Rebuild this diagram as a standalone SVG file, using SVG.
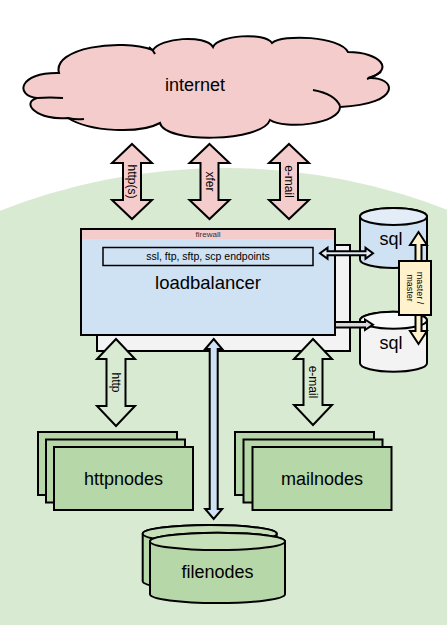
<svg xmlns="http://www.w3.org/2000/svg" width="447" height="625" viewBox="0 0 447 625">
<style>
text{font-family:"Liberation Sans",Arial,sans-serif;fill:#000}
.o{stroke:#000;stroke-width:2;stroke-linejoin:miter}
.pink{fill:#f4cccc}
.blue{fill:#cfe2f3}
.gray{fill:#f3f3f3}
.green{fill:#b6d7a8}
.bg{fill:#d9ead3}
.yel{fill:#fff2cc}
.big{font-size:18px;text-anchor:middle}
.lbl{font-size:12px;text-anchor:middle}
</style>
<rect width="447" height="625" fill="#fff"/>
<circle cx="225" cy="780" r="612" class="bg"/>

<g id="internet">
<path class="o pink" d="M59,73 C52,48 120,38 153,50 C160,38 205,34 213,47 C218,35 265,32 272,43 C282,34 340,36 348,52 C380,52 396,70 368,78 C396,76 404,104 340,107 C340,124 285,130 270,120 C262,142 165,144 160,123 C140,134 90,132 68,118 C38,121 20,103 37,98 C15,96 18,72 59,73 Z"/>
<path fill="none" stroke="#000" stroke-width="2" d="M37,98 Q50,97 63,98 M68,118 Q76,120 84,119 M313,90 Q335,94 340,106 M367,79 Q374,77 381,72 M149,47 Q153,50 155,54"/>
<text x="195" y="91" class="big">internet</text>
</g>

<g id="loadbalancer">
<rect x="97" y="245" width="253" height="106" class="o gray"/>
<rect x="81" y="229" width="254" height="106" class="blue"/>
<rect x="81" y="229" width="254" height="10" class="pink"/>
<rect x="81" y="229" width="254" height="106" class="o" fill="none"/>
<text x="208" y="237" font-size="8" text-anchor="middle" style="fill:#333">firewall</text>
<rect x="103" y="247.5" width="210" height="18" class="blue" stroke="#000" stroke-width="1.5"/>
<text x="208" y="260" font-size="10.5" text-anchor="middle">ssl, ftp, sftp, scp endpoints</text>
<text x="208" y="289" font-size="18.5" text-anchor="middle">loadbalancer</text>
</g>

<g id="sql-master">
<path class="o blue" d="M360,216.5 A33.5,8.5 0 0 1 427,216.5 L427,259.5 A33.5,8.5 0 0 1 360,259.5 Z"/>
<ellipse cx="393.5" cy="216.5" rx="33.5" ry="8.5" class="o" fill="#e2edf8"/>
<text x="391" y="245" class="big">sql</text>
</g>

<g id="sql-slave">
<path class="o gray" d="M360,320.2 A33.5,8.5 0 0 1 427,320.2 L427,363.2 A33.5,8.5 0 0 1 360,363.2 Z"/>
<ellipse cx="393.5" cy="320.2" rx="33.5" ry="8.5" class="o" fill="#f9f9f9"/>
<text x="391" y="349" class="big">sql</text>
</g>

<g id="httpnodes">
<rect x="38" y="432" width="139" height="63" class="o green"/>
<rect x="46" y="439.5" width="139" height="63" class="o green"/>
<rect x="54" y="447" width="139" height="63" class="o green"/>
<text x="123.5" y="485" class="big">httpnodes</text>
</g>

<g id="mailnodes">
<rect x="235" y="432" width="139" height="63" class="o green"/>
<rect x="243.5" y="439.5" width="139" height="63" class="o green"/>
<rect x="252.5" y="447" width="139" height="63" class="o green"/>
<text x="322" y="485" class="big">mailnodes</text>
</g>

<g id="filenodes">
<path class="o green" d="M142.7,533.7 A67,8.7 0 0 1 276.7,533.7 L276.7,581.3 A67,8.7 0 0 1 142.7,581.3 Z"/>
<ellipse cx="209.7" cy="533.7" rx="67" ry="8.7" class="o" fill="#c6e0ba"/>
<path class="o green" d="M150,541.4 A67.5,8.7 0 0 1 285,541.4 L285,594.3 A67.5,8.7 0 0 1 150,594.3 Z"/>
<ellipse cx="217.5" cy="541.4" rx="67.5" ry="8.7" class="o" fill="#c6e0ba"/>
<text x="217.5" y="578" class="big">filenodes</text>
</g>

<g id="connectors">
<polygon class="o pink" points="132,144 152,163 141,163 141,200 152,200 132,219 112,200 123,200 123,163 112,163"/>
<polygon class="o pink" points="209.5,144 229.5,163 218.5,163 218.5,200 229.5,200 209.5,219 189.5,200 200.5,200 200.5,163 189.5,163"/>
<polygon class="o pink" points="289,144 309,163 298,163 298,200 309,200 289,219 269,200 280,200 280,163 269,163"/>
<text class="lbl" transform="translate(132,181.5) rotate(90)" y="4">http(s)</text>
<text class="lbl" transform="translate(209.5,181.5) rotate(90)" y="4">xfer</text>
<text class="lbl" transform="translate(289,181.5) rotate(90)" y="4">e-mail</text>

<polygon class="o bg" points="116,339 135,359 125.5,359 125.5,406 135,406 116,426 97,406 106.5,406 106.5,359 97,359"/>
<text class="lbl" transform="translate(116,382.5) rotate(90)" y="4">http</text>
<polygon class="o bg" points="313,339 332,359 322.5,359 322.5,405 332,405 313,425 294,405 303.5,405 303.5,359 294,359"/>
<text class="lbl" transform="translate(313,382) rotate(90)" y="4">e-mail</text>

<polygon class="o blue" points="213.7,339 222.2,349 217.7,349 217.7,509 222.2,509 213.7,519 205.2,509 209.7,509 209.7,349 205.2,349"/>

<polygon class="o" fill="#e1ecf7" points="320,253.3 327.5,247.8 327.5,251.3 365.5,251.3 365.5,247.8 373,253.3 365.5,258.8 365.5,255.3 327.5,255.3 327.5,258.8"/>
<polygon class="o" fill="#d9d9d9" points="335,322 365,322 365,319.5 373,324.7 365,330 365,327.5 335,327.5"/>

<polygon class="o yel" points="418.5,232 427,245 421.5,245 421.5,331 427,331 418.5,344 410,331 415.5,331 415.5,245 410,245"/>
<rect x="399" y="261" width="32" height="54" class="o yel"/>
<text font-size="9" text-anchor="middle" transform="translate(415,288) rotate(90)"><tspan x="0" y="-1.5">master /</tspan><tspan x="0" y="8.5">master</tspan></text>
</g>
</svg>
